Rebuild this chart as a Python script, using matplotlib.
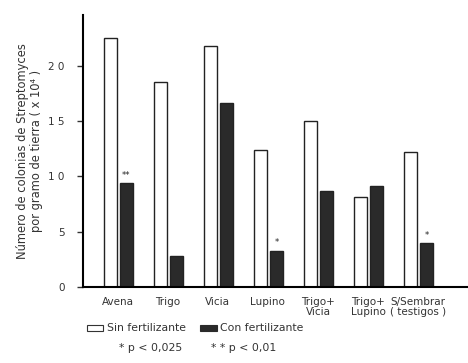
import numpy as np
import matplotlib
matplotlib.use("Agg")
import matplotlib.pyplot as plt
from matplotlib.patches import Rectangle

cultivos = ["Avena", "Trigo", "Vicia", "Lupino", "Trigo+\nVicia",
            "Trigo+\nLupino", "S/Sembrar\n( testigos )"]
sin_fert = [22.5, 18.5, 21.8, 12.4, 15.0, 8.1, 12.2]
con_fert = [9.4, 2.8, 16.6, 3.3, 8.7, 9.1, 4.0]
signif = ["**", "", "", "*", "", "", "*"]

plt.rcParams["font.family"] = "DejaVu Sans"
fig = plt.figure(figsize=(4.68, 3.63), dpi=100)
ax = fig.add_axes([0.177, 0.209, 0.823, 0.75])

x = np.arange(len(cultivos))
w = 0.26
ax.bar(x - 0.15, sin_fert, w, color="white", edgecolor="#222222", linewidth=1.0)
ax.bar(x + 0.17, con_fert, w, color="#2a2a2a", edgecolor="#222222", linewidth=1.0)
for xi, v, s in zip(x, con_fert, signif):
    if s:
        ax.text(xi + 0.17, v + 0.3, s, ha="center", va="bottom", fontsize=6, color="#222222")

ax.set_xlim(-0.7, 7.0)
ax.set_ylim(0, 24.6)
ax.set_yticks([0, 5, 10, 15, 20])
ax.set_yticklabels(["0", "5", "1 0", "1 5", "2 0"], fontsize=7.5, color="#333333")
ax.set_xticks(x)
ax.set_xticklabels(cultivos, fontsize=7.5, color="#333333", linespacing=1.0)
ax.tick_params(axis="x", length=0, pad=7)
ax.tick_params(axis="y", length=4, width=1, pad=9, color="#333333")
for side in ["top", "right"]:
    ax.spines[side].set_visible(False)
ax.spines["left"].set_linewidth(1.5)
ax.spines["bottom"].set_linewidth(1.5)
ax.set_ylabel("Número de colonias de Streptomyces\npor gramo de tierra ( x 10⁴ )",
              fontsize=8.3, color="#333333", labelpad=4, linespacing=1.1)

# leyenda
fig.patches.append(Rectangle((0.186, 0.088), 0.035, 0.018, transform=fig.transFigure,
                             facecolor="white", edgecolor="#333333", linewidth=0.8))
fig.text(0.228, 0.097, "Sin fertilizante", fontsize=7.8, va="center", color="#333333")
fig.patches.append(Rectangle((0.428, 0.088), 0.035, 0.018, transform=fig.transFigure,
                             facecolor="#2a2a2a", edgecolor="#2a2a2a", linewidth=0.8))
fig.text(0.470, 0.097, "Con fertilizante", fontsize=7.8, va="center", color="#333333")
fig.text(0.255, 0.040, "* p < 0,025", fontsize=7.8, va="center", color="#333333")
fig.text(0.450, 0.040, "* * p < 0,01", fontsize=7.8, va="center", color="#333333")

fig.savefig("out.png", dpi=100)
